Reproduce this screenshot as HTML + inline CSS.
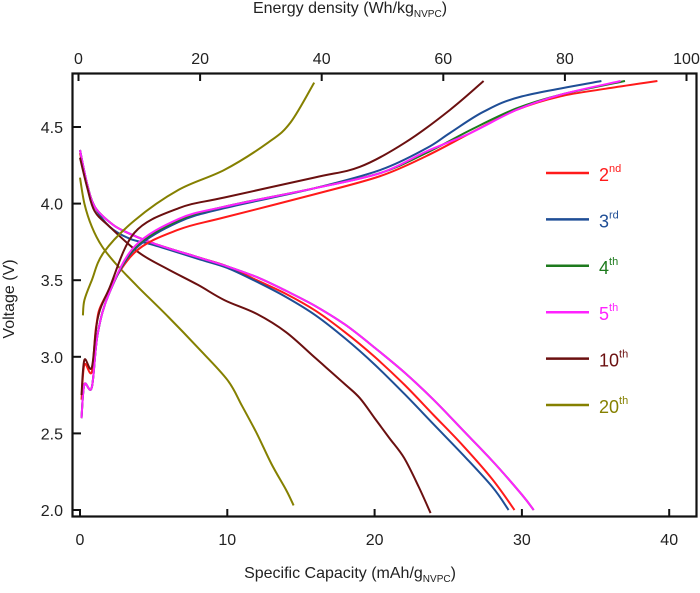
<!DOCTYPE html>
<html><head><meta charset="utf-8"><style>
body{margin:0;background:#fff;}
svg text{font-family:"Liberation Sans",Arial,sans-serif;fill:#222;}
</style></head><body>
<svg id="chart" width="700" height="588" viewBox="0 0 700 588">
<g id="axes"></g><g id="series"></g><g id="legend"></g>
</svg>
<script>
const xTicks=[0,10,20,30,40];
const yTicks=[2.0,2.5,3.0,3.5,4.0,4.5];
const topTicks=[0,20,40,60,80,100];
const seriesNames=["2nd","3rd","4th","5th","10th","20th"];
const seriesColors=["#ff1a1a","#1f4e96","#1d7a1d","#ff22ff","#6b1010","#858000"];
// charge curves [capacity, voltage]
const chg2=[[0.1,2.72],[0.3,2.95],[0.8,2.9],[1.1,3.2],[1.6,3.37],[3.7,3.68],[6.7,3.83],[9.8,3.91],[15.9,4.06],[20.4,4.18],[23.5,4.31],[26.5,4.46],[29.6,4.61],[32.6,4.70],[35.7,4.75],[39.2,4.80]];
const chg3=[[0.1,2.6],[0.3,2.82],[0.8,2.8],[1.2,3.15],[2,3.42],[3.7,3.7],[6.7,3.88],[9.8,3.97],[15.9,4.1],[20.4,4.22],[23.5,4.36],[25.1,4.46],[27.4,4.6],[30,4.7],[35.4,4.80]];
const chg4=[[0.1,2.6],[0.3,2.82],[0.8,2.8],[1.2,3.15],[2,3.42],[3.7,3.71],[6.7,3.89],[9.8,3.98],[15.9,4.1],[20.4,4.2],[23.5,4.33],[26.5,4.48],[29.6,4.62],[32.6,4.71],[37.0,4.80]];
const chg5=[[0.1,2.6],[0.3,2.82],[0.8,2.8],[1.2,3.15],[2,3.42],[3.7,3.72],[6.7,3.9],[9.8,3.98],[15.9,4.1],[20.4,4.2],[23.5,4.34],[26.5,4.46],[29.6,4.61],[32.6,4.71],[36.7,4.80]];
const chg10=[[0.1,2.75],[0.3,2.98],[0.8,2.93],[1.2,3.25],[2,3.45],[3.7,3.81],[6.7,3.97],[9.8,4.04],[15.9,4.17],[19,4.24],[22.1,4.40],[25.1,4.61],[27.4,4.80]];
const chg20=[[0.2,3.27],[0.3,3.37],[0.8,3.5],[1.6,3.68],[3.7,3.89],[6.7,4.09],[9.8,4.22],[12.8,4.40],[14.3,4.53],[15.9,4.79]];
// discharge curves
const dis2=[[0,4.33],[0.5,4.12],[1,3.98],[2,3.88],[3,3.82],[5,3.74],[8,3.65],[10,3.59],[12,3.5],[14,3.41],[16,3.3],[18,3.16],[20,3.0],[22,2.82],[24,2.62],[26,2.42],[28,2.2],[29.5,2.0]];
const dis3=[[0,4.35],[0.5,4.12],[1,3.98],[2,3.85],[3.4,3.77],[5,3.73],[8,3.64],[10,3.58],[12,3.49],[14,3.39],[16,3.27],[18,3.12],[20,2.95],[22,2.76],[24,2.56],[26,2.36],[28,2.15],[29.1,2.0]];
const dis4=[[0,4.35],[0.5,4.12],[1,3.98],[2,3.88],[3,3.82],[5,3.74],[8,3.65],[10,3.59],[12,3.52],[14,3.43],[16,3.33],[18,3.21],[20,3.06],[22,2.9],[24,2.72],[26,2.52],[28,2.32],[30,2.1],[30.8,2.0]];
const dis5=[[0,4.35],[0.5,4.12],[1,3.98],[2,3.88],[3,3.82],[5,3.74],[8,3.65],[10,3.59],[12,3.52],[14,3.43],[16,3.33],[18,3.21],[20,3.06],[22,2.9],[24,2.72],[26,2.52],[28,2.32],[30,2.1],[30.8,2.0]];
const dis10=[[0,4.3],[0.5,4.1],[1,3.95],[2,3.85],[4,3.68],[6,3.57],[8,3.47],[9.8,3.37],[12,3.28],[14,3.16],[16,2.99],[18,2.82],[19,2.73],[20,2.6],[21,2.47],[22,2.34],[23,2.15],[23.8,1.98]];
const dis20=[[0,4.17],[0.3,4.0],[0.8,3.85],[1.5,3.72],[2.5,3.6],[4,3.45],[6,3.26],[8,3.06],[10,2.85],[11,2.68],[12,2.5],[13,2.3],[14,2.13],[14.5,2.03]];

const charges=[chg2,chg3,chg4,chg5,chg10,chg20];
const discharges=[dis2,dis3,dis4,dis5,dis10,dis20];
const NS="http://www.w3.org/2000/svg";
const X=c=>80+c*14.73;
const Y=v=>510-(v-2)*153.2;
const XT=e=>78.5+e*6.08;
function mk(tag,attrs,parent){const e=document.createElementNS(NS,tag);for(const k in attrs)e.setAttribute(k,attrs[k]);parent.appendChild(e);return e;}
const axes=document.getElementById('axes');
const frame=mk('rect',{x:72.5,y:73.5,width:624,height:443,fill:'none',stroke:'#111','stroke-width':2.2},axes);


xTicks.forEach(t=>{
  const l=mk('line',{x1:X(t),x2:X(t),y1:516,y2:509,stroke:'#111','stroke-width':2},axes);
  
  
  const tx=mk('text',{x:X(t),y:545,'text-anchor':'middle','font-size':16},axes);tx.textContent=t;
  
  
});
yTicks.forEach(t=>{
  const l=mk('line',{x1:73,x2:81,y1:Y(t),y2:Y(t),stroke:'#111','stroke-width':2},axes);
  
  
  const tx=mk('text',{x:63,y:Y(t)+6,'text-anchor':'end','font-size':16},axes);tx.textContent=t.toFixed(1);
  
  
});
topTicks.forEach(t=>{
  const l=mk('line',{x1:XT(t),x2:XT(t),y1:74,y2:81,stroke:'#111','stroke-width':2},axes);
  
  
  const tx=mk('text',{x:XT(t),y:64,'text-anchor':'middle','font-size':16},axes);tx.textContent=t;
  
  
});
const series=document.getElementById('series');
function smoothD(pts){
  const P=pts.map(q=>[X(q[0]),Y(q[1])]);
  let d='M'+P[0][0].toFixed(1)+','+P[0][1].toFixed(1);
  for(let i=0;i<P.length-1;i++){
    const p0=P[i-1]||P[i],p1=P[i],p2=P[i+1],p3=P[i+2]||P[i+1];
    const c1=[p1[0]+(p2[0]-p0[0])/6,p1[1]+(p2[1]-p0[1])/6];
    const c2=[p2[0]-(p3[0]-p1[0])/6,p2[1]-(p3[1]-p1[1])/6];
    d+='C'+c1[0].toFixed(1)+','+c1[1].toFixed(1)+' '+c2[0].toFixed(1)+','+c2[1].toFixed(1)+' '+p2[0].toFixed(1)+','+p2[1].toFixed(1);
  }
  return d;
}
function path(pts,color,name){
  const p=mk('path',{d:smoothD(pts),fill:'none',stroke:color,'stroke-width':2,'stroke-linejoin':'round'},series);
  
  
}
for(let i=0;i<6;i++){path(discharges[i],seriesColors[i],'discharge-'+seriesNames[i]);}
for(let i=0;i<6;i++){path(charges[i],seriesColors[i],'charge-'+seriesNames[i]);}
const leg=document.getElementById('legend');
seriesNames.forEach((n,i)=>{
  const y=173+i*46.4;
  const l=mk('line',{x1:546,x2:589,y1:y,y2:y,stroke:seriesColors[i],'stroke-width':2.5},leg);
  
  
  const t=mk('text',{x:599,y:y+8,'font-size':18,style:'fill:'+seriesColors[i]},leg);
  
  
  const num=n.replace(/[a-z]+$/,''),suf=n.slice(num.length);
  t.appendChild(document.createTextNode(num));
  const s=mk('tspan',{dy:-9,'font-size':11,style:'fill:'+seriesColors[i]},t);s.textContent=suf;
});
</script>
<div style="position:absolute;left:0;top:0;width:700px;height:588px;pointer-events:none;">
<div style="position:absolute;left:0;width:700px;top:0;text-align:center;font:16px 'Liberation Sans',sans-serif;color:#222;">Energy density (Wh/kg<sub style="font-size:10px">NVPC</sub>)</div>
<div style="position:absolute;left:0;width:700px;top:565px;text-align:center;font:16px 'Liberation Sans',sans-serif;color:#222;">Specific Capacity (mAh/g<sub style="font-size:10px">NVPC</sub>)</div>
<div style="position:absolute;left:-40px;top:290px;width:100px;text-align:center;transform:rotate(-90deg);font:16px 'Liberation Sans',sans-serif;color:#222;">Voltage (V)</div>
</div>
</body></html>
